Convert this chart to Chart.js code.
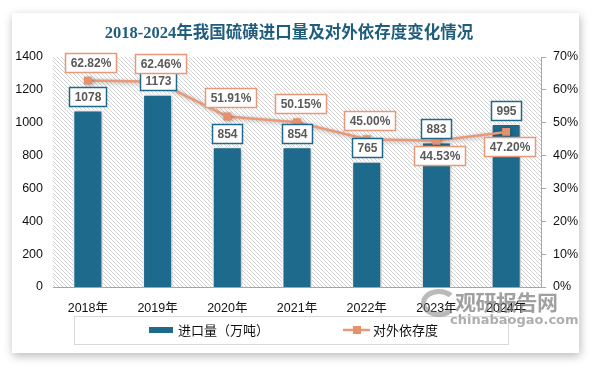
<!DOCTYPE html>
<html>
<head>
<meta charset="utf-8">
<script src="https://cdn.jsdelivr.net/npm/chart.js@4/dist/chart.umd.min.js"></script>
<style>
    body { margin: 0; background: #fff; width: 594px; height: 366px; overflow: hidden; position: relative; }
    .card { position: absolute; left: 12px; top: 13px; width: 567px; height: 340px; background: #fff;
            box-shadow: 1px 3px 9px rgba(0,0,0,0.28); }
    #chart { position: absolute; left: 0; top: 0; }
    .wm1 { position: absolute; left: 455px; top: 286px; font: bold 21px 'Noto Sans CJK SC'; color: rgba(120,120,120,0.7); letter-spacing: -0.5px; }
    .wm2 { position: absolute; left: 450px; top: 312px; font: bold 13px 'DejaVu Sans'; color: rgba(130,130,130,0.65); }
    .logo { position: absolute; left: 421px; top: 289px; width: 26px; height: 18px; border: 5px solid rgba(130,130,130,0.55);
            border-radius: 50%; border-right-color: transparent; }
</style>
</head>
<body>
<div class="card"></div>
<canvas id="chart" width="594" height="366"></canvas>
<div class="logo"></div>
<div class="wm1">观研报告网</div>
<div class="wm2">chinabaogao.com</div>
<script>
// 数据
const years = ['2018年', '2019年', '2020年', '2021年', '2022年', '2023年', '2024年'];
const imports = [1078, 1173, 854, 854, 765, 883, 995];          // 进口量（万吨）
const dependence = [62.82, 62.46, 51.91, 50.15, 45.00, 44.53, 47.20]; // 对外依存度 %
const leftTicks = [0, 200, 400, 600, 800, 1000, 1200, 1400];
const rightTicks = [0, 10, 20, 30, 40, 50, 60, 70];

const BAR_COLOR = '#1e6a8d';
const LINE_COLOR = '#e9997a';
const TICK_FONT = { family: "'Liberation Sans', 'Noto Sans CJK SC'", size: 12.5 };

// 折线标签在点的上方还是下方
const depLabelPos = ['above', 'above', 'above', 'above', 'above', 'below', 'below'];

function makeHatch(ctx) {
    const c = document.createElement('canvas');
    c.width = 4; c.height = 4;
    const p = c.getContext('2d');
    p.fillStyle = '#fff';
    p.fillRect(0, 0, 4, 4);
    p.strokeStyle = '#d2d2d2';
    p.lineWidth = 1;
    p.beginPath();
    p.moveTo(0, 0); p.lineTo(4, 4);
    p.moveTo(-1, 3); p.lineTo(1, 5);
    p.moveTo(3, -1); p.lineTo(5, 1);
    p.stroke();
    return ctx.createPattern(c, 'repeat');
}

function drawBox(ctx, cx, top, text, border) {
    ctx.font = "bold 12px 'Liberation Sans'";
    const w = Math.round(ctx.measureText(text).width + 10);
    const h = 19;
    const x = Math.round(cx - w / 2) + 0.5;
    const y = Math.round(top) + 0.5;
    ctx.fillStyle = '#fff';
    ctx.fillRect(x, y, w, h);
    ctx.strokeStyle = border;
    ctx.lineWidth = 1.5;
    ctx.strokeRect(x, y, w, h);
    ctx.fillStyle = '#595959';
    ctx.textAlign = 'center';
    ctx.textBaseline = 'middle';
    ctx.fillText(text, x + w / 2, y + h / 2 + 1);
}

const decorPlugin = {
    id: 'decor',
    beforeDraw(chart) {
        const { ctx, chartArea: a } = chart;
        ctx.save();
        ctx.fillStyle = makeHatch(ctx);
        ctx.fillRect(a.left, a.top, a.right - a.left, a.bottom - a.top);
        ctx.restore();

        // 标题
        ctx.save();
        ctx.font = "bold 16.5px 'Liberation Serif', 'Noto Sans CJK SC'";
        ctx.fillStyle = '#1f5d7e';
        ctx.textAlign = 'center';
        ctx.textBaseline = 'middle';
        ctx.fillText('2018-2024年我国硫磺进口量及对外依存度变化情况', 289, 34);
        ctx.restore();
    },
    beforeDatasetDraw(chart) {
        const ctx = chart.ctx;
        ctx.save();
        ctx.shadowColor = 'rgba(0,0,0,0.3)';
        ctx.shadowBlur = 4;
        ctx.shadowOffsetX = 1;
        ctx.shadowOffsetY = 1;
    },
    afterDatasetDraw(chart) {
        chart.ctx.restore();
    },
    afterDatasetsDraw(chart) {
        const ctx = chart.ctx;
        ctx.save();
        chart.getDatasetMeta(0).data.forEach((bar, i) => {
            drawBox(ctx, bar.x, bar.y - 4 - 19, String(imports[i]), BAR_COLOR);
        });
        chart.getDatasetMeta(1).data.forEach((pt, i) => {
            const top = depLabelPos[i] === 'above' ? pt.y - 9 - 19 : pt.y + 5;
            drawBox(ctx, pt.x + 3, top, dependence[i].toFixed(2) + '%', LINE_COLOR);
        });
        ctx.restore();
    },
    afterDraw(chart) {
        // 图例
        const ctx = chart.ctx;
        ctx.save();
        ctx.strokeStyle = '#d9d9d9';
        ctx.lineWidth = 1;
        ctx.strokeRect(74.5, 316.5, 434, 28);
        ctx.fillStyle = BAR_COLOR;
        ctx.fillRect(149, 327, 24, 6);
        ctx.strokeStyle = LINE_COLOR;
        ctx.lineWidth = 2.5;
        ctx.beginPath();
        ctx.moveTo(343, 330); ctx.lineTo(370, 330);
        ctx.stroke();
        ctx.fillStyle = '#e8906a';
        ctx.fillRect(353, 326, 8, 8);
        ctx.fillStyle = '#111';
        ctx.font = "13px 'Noto Sans CJK SC'";
        ctx.textBaseline = 'middle';
        ctx.textAlign = 'left';
        ctx.fillText(chart.data.datasets[0].label, 178, 330);
        ctx.fillText(chart.data.datasets[1].label, 373, 330);
        ctx.restore();
    }
};

new Chart(document.getElementById('chart'), {
    type: 'bar',
    data: {
        labels: years,
        datasets: [
            {
                label: '进口量（万吨）',
                data: imports,
                yAxisID: 'y',
                backgroundColor: BAR_COLOR,
                borderColor: '#fff',
                borderWidth: 1.5,
                barPercentage: 0.43,
                categoryPercentage: 1,
                order: 1
            },
            {
                type: 'line',
                label: '对外依存度',
                data: dependence,
                yAxisID: 'y1',
                borderColor: LINE_COLOR,
                borderWidth: 2.5,
                pointStyle: 'rect',
                pointRadius: 5.6,
                pointBackgroundColor: '#e8906a',
                pointBorderWidth: 0,
                tension: 0,
                order: 0
            }
        ]
    },
    options: {
        responsive: false,
        animation: false,
        devicePixelRatio: 1,
        layout: { padding: { top: 57, left: 0, right: 0, bottom: 0 } },
        plugins: {
            legend: { display: false },
            title: { display: false },
            tooltip: { enabled: false }
        },
        scales: {
            x: {
                grid: { display: false },
                border: { color: '#a6a6a6', width: 1 },
                ticks: { color: '#111', font: TICK_FONT, padding: 6 },
                afterFit: s => { s.height = 79; }
            },
            y: {
                position: 'left',
                min: 0,
                max: 1400,
                grid: { display: false, drawTicks: false },
                border: { display: false },
                afterBuildTicks: s => { s.ticks = leftTicks.map(v => ({ value: v })); },
                ticks: { color: '#111', font: TICK_FONT, padding: 10, callback: v => String(v) },
                afterFit: s => { s.width = 53; }
            },
            y1: {
                position: 'right',
                min: 0,
                max: 70,
                grid: { drawOnChartArea: false, drawTicks: true, tickLength: 5, color: '#a6a6a6' },
                border: { color: '#a6a6a6', width: 1 },
                afterBuildTicks: s => { s.ticks = rightTicks.map(v => ({ value: v })); },
                ticks: { color: '#111', font: TICK_FONT, padding: 7, callback: v => v + '%' },
                afterFit: s => { s.width = 53; }
            }
        }
    },
    plugins: [decorPlugin]
});
</script>
</body>
</html>
